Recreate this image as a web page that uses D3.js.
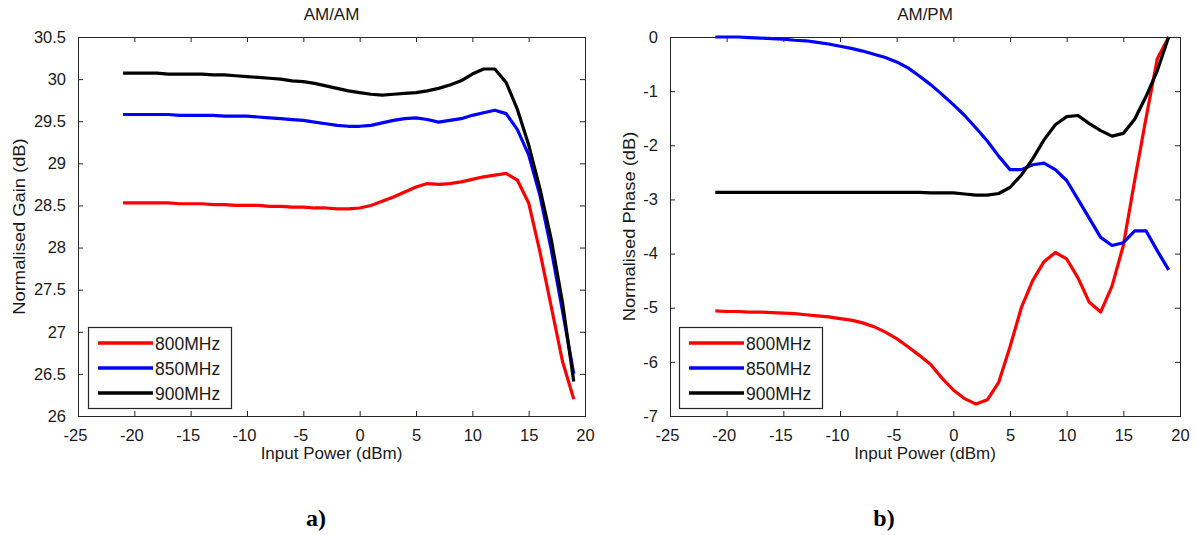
<!DOCTYPE html>
<html>
<head>
<meta charset="utf-8">
<script src="https://cdn.jsdelivr.net/npm/d3@7"></script>
<style>
  body { margin: 0; background: #fff; }
  svg { display: block; }
  text { font-family: Arial, "Liberation Sans", sans-serif; }
</style>
</head>
<body>
<svg id="fig" width="1196" height="535"></svg>
<script>
// Input drive levels (dBm), 1 dB steps
const inputPower = [-21, -20, -19, -18, -17, -16, -15, -14, -13, -12, -11, -10, -9, -8, -7, -6, -5, -4, -3, -2, -1,
                    0, 1, 2, 3, 4, 5, 6, 7, 8, 9, 10, 11, 12, 13, 14, 15, 16, 17, 18, 19];

const seriesNames = ["800MHz", "850MHz", "900MHz"];
const seriesColors = ["#ff0000", "#0000ff", "#000000"];

// AM/AM: normalised gain (dB)
const gain800 = [28.53, 28.53, 28.53, 28.53, 28.53, 28.52, 28.52, 28.52, 28.51, 28.51, 28.50, 28.50, 28.50, 28.49, 28.49, 28.48, 28.48, 28.47, 28.47, 28.46, 28.46,
                 28.47, 28.50, 28.55, 28.60, 28.66, 28.72, 28.76, 28.75, 28.76, 28.78, 28.81, 28.84, 28.86, 28.88, 28.80, 28.53, 27.95, 27.30, 26.65, 26.20];
const gain850 = [29.58, 29.58, 29.58, 29.58, 29.58, 29.57, 29.57, 29.57, 29.57, 29.56, 29.56, 29.56, 29.55, 29.54, 29.53, 29.52, 29.51, 29.49, 29.47, 29.45, 29.44,
                 29.44, 29.45, 29.48, 29.51, 29.53, 29.54, 29.52, 29.49, 29.51, 29.53, 29.57, 29.60, 29.63, 29.59, 29.40, 29.10, 28.62, 27.98, 27.25, 26.50];
const gain900 = [30.07, 30.07, 30.07, 30.07, 30.06, 30.06, 30.06, 30.06, 30.05, 30.05, 30.04, 30.03, 30.02, 30.01, 30.00, 29.98, 29.97, 29.95, 29.92, 29.89, 29.86,
                 29.84, 29.82, 29.81, 29.82, 29.83, 29.84, 29.86, 29.89, 29.93, 29.98, 30.06, 30.12, 30.12, 29.96, 29.64, 29.22, 28.70, 28.10, 27.35, 26.41];

// AM/PM: normalised phase
const phase800 = [-5.06, -5.07, -5.07, -5.08, -5.08, -5.09, -5.10, -5.11, -5.13, -5.15, -5.17, -5.20, -5.23, -5.28, -5.35, -5.45, -5.57, -5.72, -5.88, -6.05, -6.30,
                  -6.52, -6.68, -6.78, -6.70, -6.38, -5.72, -5.00, -4.50, -4.15, -3.98, -4.10, -4.45, -4.90, -5.08, -4.60, -3.85, -2.65, -1.50, -0.40, 0.00];
const phase850 = [0.00, 0.00, 0.00, -0.01, -0.02, -0.03, -0.04, -0.06, -0.07, -0.10, -0.13, -0.17, -0.21, -0.26, -0.32, -0.38, -0.46, -0.57, -0.72, -0.88, -1.06,
                  -1.25, -1.45, -1.68, -1.92, -2.20, -2.45, -2.45, -2.36, -2.33, -2.45, -2.65, -3.00, -3.35, -3.70, -3.85, -3.80, -3.58, -3.58, -3.95, -4.30];
const phase900 = [-2.87, -2.87, -2.87, -2.87, -2.87, -2.87, -2.87, -2.87, -2.87, -2.87, -2.87, -2.87, -2.87, -2.87, -2.87, -2.87, -2.87, -2.87, -2.87, -2.88, -2.88,
                  -2.88, -2.90, -2.92, -2.92, -2.89, -2.78, -2.55, -2.25, -1.90, -1.62, -1.47, -1.45, -1.60, -1.73, -1.83, -1.78, -1.52, -1.10, -0.62, 0.00];

// Tick values
const xTicks = [-25, -20, -15, -10, -5, 0, 5, 10, 15, 20];
const gainTicks = [26, 26.5, 27, 27.5, 28, 28.5, 29, 29.5, 30, 30.5];
const phaseTicks = [-7, -6, -5, -4, -3, -2, -1, 0];

const panels = [
  {
    title: "AM/AM", yLabel: "Normalised Gain (dB)", tag: "a)",
    series: [gain800, gain850, gain900],
    yDomain: [26, 30.5], yTicks: gainTicks,
    left: 78, right: 585, top: 37, bottom: 416,
    yLabelX: 25, legendX: 88, tagX: 316
  },
  {
    title: "AM/PM", yLabel: "Normalised Phase (dB)", tag: "b)",
    series: [phase800, phase850, phase900],
    yDomain: [-7, 0], yTicks: phaseTicks,
    left: 670, right: 1180, top: 37, bottom: 416,
    yLabelX: 635, legendX: 679, tagX: 884
  }
];

const svg = d3.select("#fig");
svg.append("rect").attr("width", 1196).attr("height", 535).attr("fill", "#fff");

const axisColor = "#262626";
const textColor = "#1a1a1a";
const tickLen = 5;
const labelSize = "17px";

panels.forEach((p, pi) => {
  const x = d3.scaleLinear().domain([-25, 20]).range([p.left, p.right]);
  const y = d3.scaleLinear().domain(p.yDomain).range([p.bottom, p.top]);
  const g = svg.append("g");

  const clipId = "clip" + pi;
  svg.append("clipPath").attr("id", clipId)
    .append("rect")
    .attr("x", p.left - 2).attr("y", p.top - 2)
    .attr("width", p.right - p.left + 4).attr("height", p.bottom - p.top + 4);

  // curves
  const line = d3.line()
    .x((d, i) => x(inputPower[i]))
    .y(d => y(d));
  g.append("g").attr("clip-path", `url(#${clipId})`)
    .selectAll("path")
    .data(p.series)
    .join("path")
    .attr("d", line)
    .attr("fill", "none")
    .attr("stroke", (d, i) => seriesColors[i])
    .attr("stroke-width", 3.2)
    .attr("stroke-linejoin", "round")
    .attr("stroke-linecap", "butt");

  // axes: inward ticks on all four sides, with labels on bottom and left
  const fmt = v => String(v);
  const bottomAxis = d3.axisBottom(x).tickValues(xTicks).tickSizeInner(-tickLen).tickSizeOuter(0).tickPadding(13).tickFormat(fmt);
  const topAxis = d3.axisTop(x).tickValues(xTicks).tickSizeInner(-tickLen).tickSizeOuter(0).tickFormat("");
  const leftAxis = d3.axisLeft(y).tickValues(p.yTicks).tickSizeInner(-tickLen).tickSizeOuter(0).tickPadding(12).tickFormat(fmt);
  const rightAxis = d3.axisRight(y).tickValues(p.yTicks).tickSizeInner(-tickLen).tickSizeOuter(0).tickFormat("");

  const gb = g.append("g").attr("transform", `translate(0,${p.bottom})`).call(bottomAxis);
  const gt = g.append("g").attr("transform", `translate(0,${p.top})`).call(topAxis);
  const gl = g.append("g").attr("transform", `translate(${p.left},0)`).call(leftAxis);
  const gr = g.append("g").attr("transform", `translate(${p.right},0)`).call(rightAxis);

  [gb, gt, gl, gr].forEach(a => {
    a.select(".domain").remove();
    a.selectAll(".tick line").attr("stroke", axisColor).attr("stroke-width", 1);
    a.selectAll(".tick text")
      .attr("fill", textColor)
      .style("font-size", "16.5px")
      .style("font-family", "Arial, 'Liberation Sans', sans-serif");
  });
  // negative x labels are centred on their digits
  gb.selectAll(".tick text").attr("dx", d => d < 0 ? -3 : 0);

  // axes box
  g.append("rect")
    .attr("x", p.left + 0.5).attr("y", p.top + 0.5)
    .attr("width", p.right - p.left).attr("height", p.bottom - p.top)
    .attr("fill", "none").attr("stroke", axisColor).attr("stroke-width", 1);

  // title and axis labels
  g.append("text")
    .attr("x", (p.left + p.right) / 2).attr("y", 20)
    .attr("text-anchor", "middle").attr("fill", textColor)
    .style("font-size", labelSize).text(p.title);
  g.append("text")
    .attr("x", (p.left + p.right) / 2).attr("y", 459)
    .attr("text-anchor", "middle").attr("fill", textColor)
    .style("font-size", labelSize).text("Input Power (dBm)");
  g.append("text")
    .attr("transform", `translate(${p.yLabelX},${(p.top + p.bottom) / 2}) rotate(-90) scale(1.08,1)`)
    .attr("text-anchor", "middle").attr("fill", textColor)
    .style("font-size", labelSize).text(p.yLabel);

  // legend
  const lg = g.append("g").attr("transform", `translate(${p.legendX},327)`);
  lg.append("rect")
    .attr("x", 0.5).attr("y", 0.5).attr("width", 143).attr("height", 81)
    .attr("fill", "#fff").attr("stroke", axisColor).attr("stroke-width", 1.2);
  seriesNames.forEach((name, i) => {
    const ry = 16 + i * 25;
    lg.append("line")
      .attr("x1", 10).attr("x2", 65).attr("y1", ry).attr("y2", ry)
      .attr("stroke", seriesColors[i]).attr("stroke-width", 3.5);
    lg.append("text")
      .attr("x", 67).attr("y", ry + 6.5)
      .attr("fill", textColor)
      .style("font-size", "17.5px").text(name);
  });

  // panel tag
  svg.append("text")
    .attr("x", p.tagX).attr("y", 526)
    .attr("text-anchor", "middle").attr("fill", "#000")
    .style("font-family", "'Times New Roman', 'Liberation Serif', serif")
    .style("font-weight", "bold").style("font-size", "24px")
    .text(p.tag);
});
</script>
</body>
</html>
